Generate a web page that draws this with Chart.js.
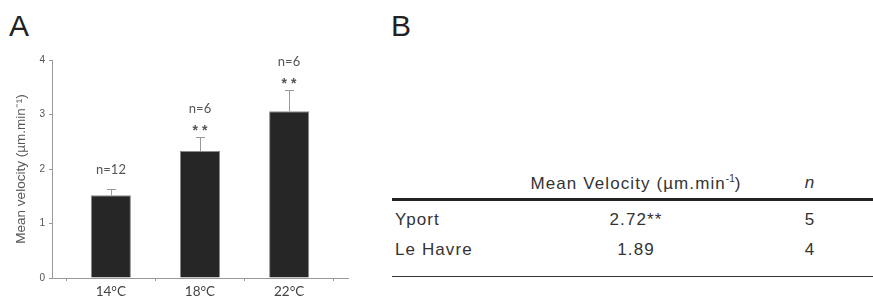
<!DOCTYPE html>
<html>
<head>
<meta charset="utf-8">
<script src="https://cdn.jsdelivr.net/npm/chart.js@4.4.1/dist/chart.umd.min.js"></script>
<style>
  html, body { margin: 0; padding: 0; background: #fff; }
  #wrap { position: relative; width: 873px; height: 304px; overflow: hidden; font-family: "Liberation Sans", Arial, sans-serif; }
  .panel { position: absolute; font-size: 30px; color: #222; line-height: 1; }
  #chartBox { position: absolute; left: 0; top: 0; width: 360px; height: 304px; }
  #tableB { position: absolute; left: 392px; top: 168px; width: 481px; border-collapse: collapse; font-size: 17px; letter-spacing: 1.1px; color: #333; }
  #tableB th { font-weight: normal; height: 30px; padding: 0; border-bottom: 3px solid #222; }
  #tableB td { height: 22px; padding: 8px 0 0 0; }
  #tableB tr:last-child td { padding-bottom: 15px; border-bottom: 1.5px solid #333; }
  #tableB .name { text-align: left; padding-left: 3px; width: 130px; }
  #tableB .val { text-align: center; width: 222px; }
  #tableB .n { text-align: center; }
  sup { font-size: 10px; vertical-align: 7px; letter-spacing: 0; }
</style>
</head>
<body>
<div id="wrap">
  <div class="panel" style="left:9px; top:11px;">A</div>
  <div class="panel" style="left:391px; top:11px;">B</div>
  <div id="chartBox"><canvas id="velocityChart"></canvas></div>
  <table id="tableB">
    <thead><tr><th></th><th class="val">Mean Velocity (µm.min<sup>-1</sup>)</th><th class="n"><i>n</i></th></tr></thead>
    <tbody id="tableBody"></tbody>
  </table>
</div>
<script>
// Panel A data
const categories = ['14°C', '18°C', '22°C'];
const meanVelocity = [1.52, 2.33, 3.06];
const semVelocity = [0.11, 0.26, 0.39];
const sampleSizes = [12, 6, 6];
const significance = ['', '**', '**'];
const yTicks = [0, 1, 2, 3, 4];

// Panel B data
const sites = ['Yport', 'Le Havre'];
const siteVelocity = ['2.72**', '1.89'];
const siteN = [5, 4];

// Build table B
const tbody = document.getElementById('tableBody');
sites.forEach((s, i) => {
    const tr = document.createElement('tr');
    tr.innerHTML = `<td class="name">${s}</td><td class="val">${siteVelocity[i]}</td><td class="n">${siteN[i]}</td>`;
    tbody.appendChild(tr);
});

// Error bars + n / significance labels
const errorBarPlugin = {
    id: 'errorBars',
    afterDatasetsDraw(chart) {
        const { ctx, scales: { x, y } } = chart;
        ctx.save();
        meanVelocity.forEach((m, i) => {
            const px = Math.round(x.getPixelForValue(i));
            const yBar = y.getPixelForValue(m);
            const yTop = Math.round(y.getPixelForValue(m + semVelocity[i]));
            ctx.strokeStyle = '#999';
            ctx.lineWidth = 1;
            ctx.beginPath();
            ctx.moveTo(px + 0.5, yBar);
            ctx.lineTo(px + 0.5, yTop);
            ctx.moveTo(px - 4, yTop + 0.5);
            ctx.lineTo(px + 5, yTop + 0.5);
            ctx.stroke();

            ctx.fillStyle = '#555';
            ctx.textAlign = 'center';
            ctx.textBaseline = 'middle';
            ctx.font = '13px Lato, "Open Sans", sans-serif';
            if (significance[i]) {
                ctx.fillText('n=' + sampleSizes[i], px, yTop - 28);
                ctx.font = 'bold 14px "Liberation Sans", Arial, sans-serif';
                ctx.textBaseline = 'alphabetic';
                ctx.fillText(significance[i].split('').join(' '), px, yTop - 2);
            } else {
                ctx.fillText('n=' + sampleSizes[i], px, yTop - 19);
            }
        });
        ctx.restore();
    }
};

new Chart(document.getElementById('velocityChart'), {
    type: 'bar',
    data: {
        datasets: [{
            data: meanVelocity.map((v, i) => ({ x: i, y: v })),
            backgroundColor: '#262626',
            borderColor: '#8a8a8a',
            borderWidth: 1,
            barPercentage: 0.45,
            categoryPercentage: 1
        }]
    },
    options: {
        responsive: true,
        maintainAspectRatio: false,
        animation: false,
        layout: { padding: { top: 60, right: 12, left: 11, bottom: 0 } },
        plugins: { legend: { display: false }, tooltip: { enabled: false } },
        scales: {
            x: {
                type: 'linear',
                offset: false,
                min: -0.66,
                max: 2.66,
                afterBuildTicks: s => { s.ticks = categories.map((c, i) => ({ value: i })); },
                afterFit: s => { s.height = 26; },
                ticks: {
                    callback: v => categories[v],
                    color: '#444',
                    font: { family: 'Lato, "Open Sans", sans-serif', size: 13.5 },
                    padding: 3,
                    maxRotation: 0
                },
                grid: { drawOnChartArea: false, color: '#999', tickLength: 3 },
                border: { color: '#999', width: 1 }
            },
            y: {
                min: 0,
                max: 4,
                afterBuildTicks: s => { s.ticks = yTicks.map(v => ({ value: v })); },
                afterFit: s => { s.width = 41; },
                ticks: {
                    color: '#555',
                    font: { family: '"Liberation Sans", Arial, sans-serif', size: 10 },
                    padding: 4
                },
                grid: { drawOnChartArea: false, color: '#999', tickLength: 3 },
                border: { color: '#999', width: 1 },
                title: {
                    display: true,
                    text: 'Mean velocity (µm.min⁻¹)',
                    color: '#555',
                    font: { family: '"Liberation Sans", Arial, sans-serif', size: 13.5 },
                    padding: 2
                }
            }
        }
    },
    plugins: [errorBarPlugin]
});
</script>
</body>
</html>
